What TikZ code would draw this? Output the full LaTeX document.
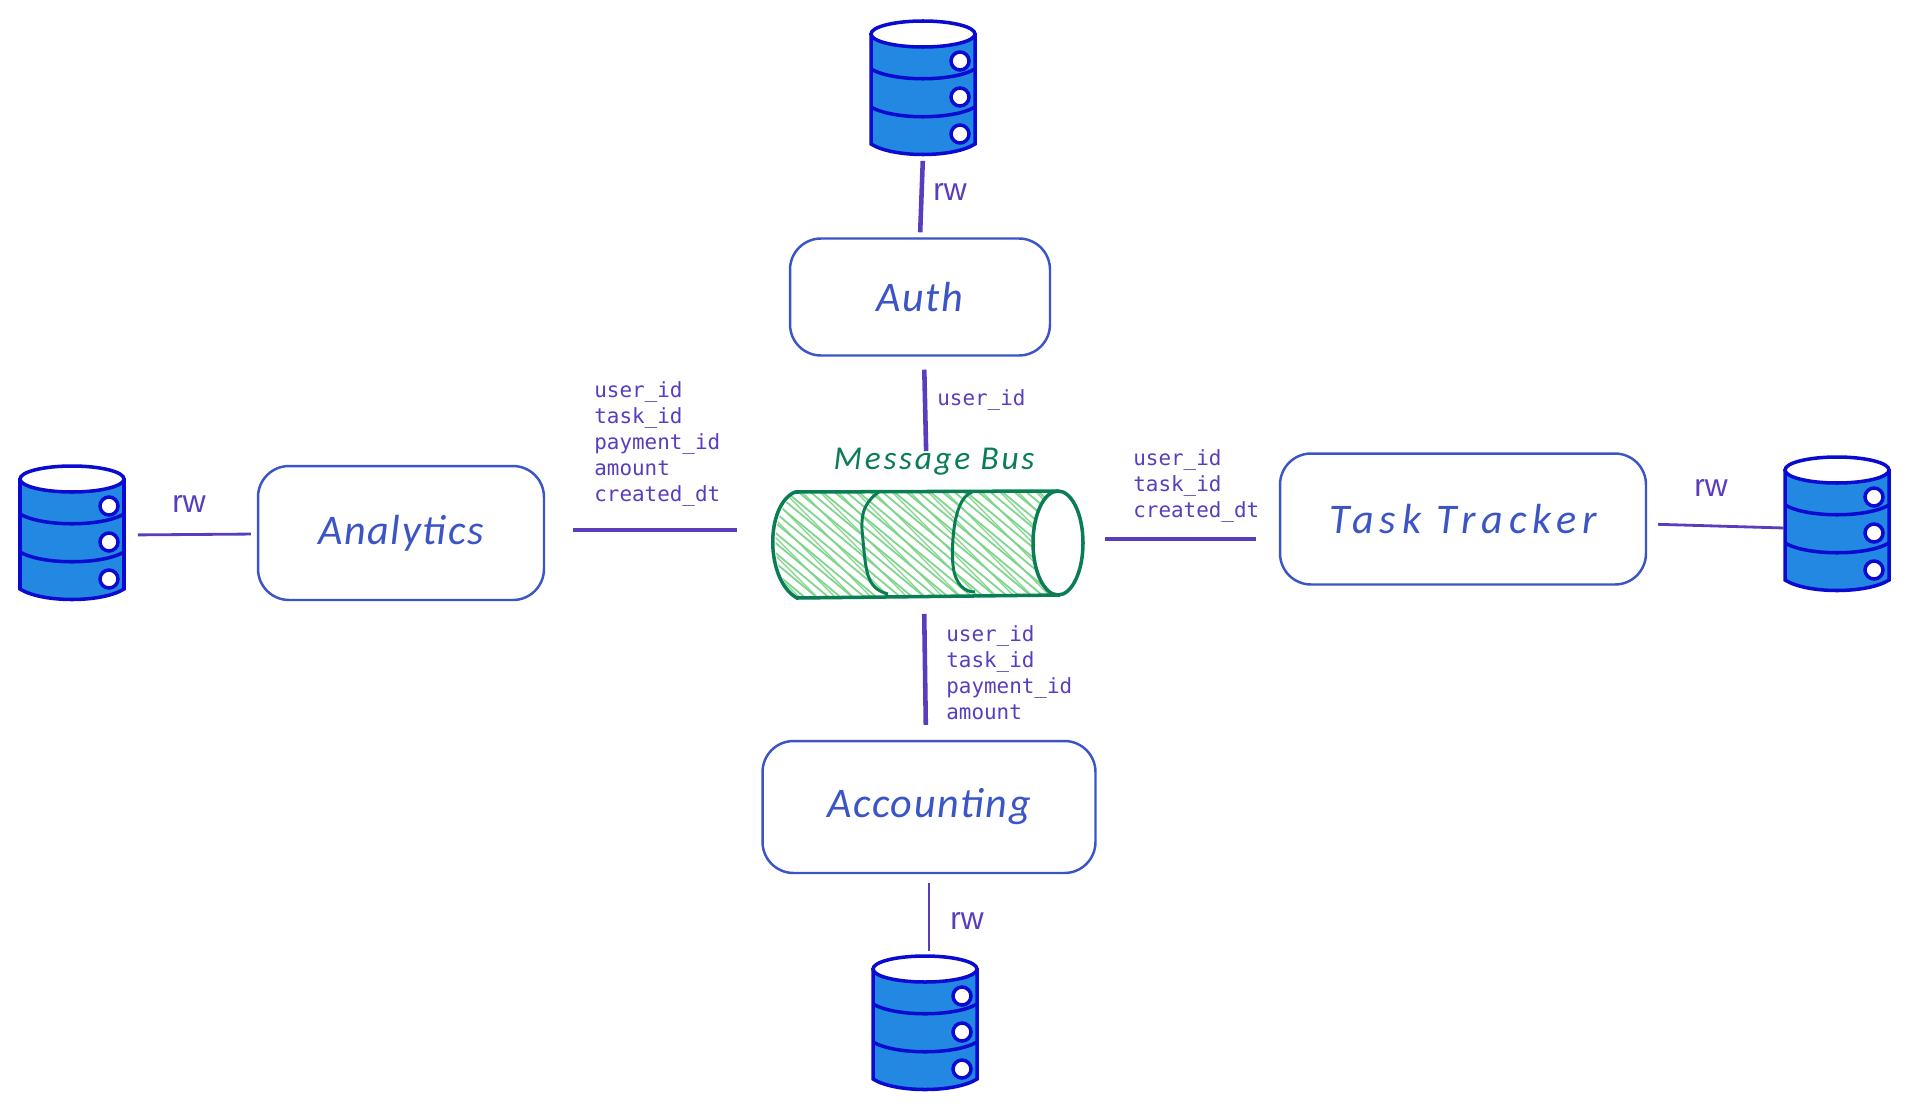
\documentclass[tikz,border=0pt]{standalone}
\usepackage{fontspec}
\usetikzlibrary{calc}
\setmainfont{Liberation Sans}
\newfontfamily\handfont[LetterSpace=4]{Carlito}
\newfontfamily\fldfont{DejaVu Sans Mono}
\definecolor{ink}{HTML}{3B55C6}
\definecolor{lnk}{HTML}{5A3DBD}
\definecolor{dbink}{HTML}{0A0AD0}
\definecolor{dbfill}{HTML}{2288E2}
\definecolor{busink}{HTML}{0B7D55}
\definecolor{hatch}{HTML}{7FD58C}
\tikzset{
  dbstack/.pic={
    \fill[dbfill] (-52,-55) -- (-52,56) .. controls (-30,70) and (30,70) .. (52,56) -- (52,-55) -- cycle;
    \draw[dbline] (-52,-55) -- (-52,56) .. controls (-30,70) and (30,70) .. (52,56) -- (52,-55);
    \draw[dbline, fill=white] (0,-54) ellipse [x radius=52, y radius=13];
    \draw[dbline] (-52,-19) .. controls (-30,-6) and (30,-6) .. (52,-19);
    \draw[dbline] (-52,19) .. controls (-30,32) and (30,32) .. (52,19);
    \foreach \y in {-27,9,46}
      \draw[dbline, fill=white] (37,\y) circle [radius=9];
  }
}
\begin{document}
\begin{tikzpicture}[x=0.02cm, y=-0.02cm,
  svc/.style={draw=ink, line width=1.4pt, rounded corners=0.62cm, align=center, text=ink,
    font=\handfont\itshape\fontsize{24}{28}\selectfont},
  db/.style={minimum width=2.1cm, minimum height=2.66cm, inner sep=0pt},
  dbline/.style={draw=dbink, line width=2pt},
  arr/.style={draw=lnk, line width=2.6pt},
  arrw/.style={draw=lnk, line width=1.6pt},
  rw/.style={text=lnk, font=\fontsize{18}{20}\selectfont, inner sep=0pt},
  fld/.style={text=lnk, align=left, anchor=west, inner sep=0pt,
    font=\fldfont\fontsize{11.9}{14.8}\selectfont}
]
  \useasboundingbox (0,0) rectangle (1912,1112);

  \node[svc, minimum width=5.2cm, minimum height=2.34cm] (auth) at (920,297) {Auth};
  \node[svc, minimum width=5.72cm, minimum height=2.68cm] (analytics) at (401,533) {Analytics};
  \node[svc, minimum width=7.32cm, minimum height=2.62cm] (task) at (1463,519) {\addfontfeature{LetterSpace=14}Task Tracker};
  \node[svc, minimum width=6.66cm, minimum height=2.64cm] (accounting) at (929,807) {Accounting};

  \node[db] (dbauth) at (923,88) {};
  \node[db] (dbanalytics) at (72,533) {};
  \node[db] (dbtask) at (1837,524) {};
  \node[db] (dbaccounting) at (925,1023) {};
  \foreach \d in {dbauth, dbanalytics, dbtask, dbaccounting}
    \pic at (\d) {dbstack};

  \node[minimum width=6.22cm, minimum height=2.14cm, inner sep=0pt] (bus) at (927,544) {};
  \begin{scope}
    \clip (795,492) -- (1058,491) -- (1060,595) -- (797,598)
      .. controls (774,580) and (764,520) .. cycle;
    \foreach \h in {640,652,...,1060}
      \draw[hatch, line width=1pt] (\h,480) -- ++(150,125);
    \foreach \h in {646,664,...,1060}
      \draw[hatch, line width=0.7pt] (\h,480) -- ++(125,125);
  \end{scope}
  \draw[busink, line width=2pt] (1058,491) -- (795,492)
    .. controls (765,505) and (765,580) .. (797,598) -- (1060,595);
  \draw[busink, line width=1.7pt] (880,491) .. controls (860,505) and (862,520) .. (862,530)
    .. controls (866,570) and (865,588) .. (888,594);
  \draw[busink, line width=1.7pt] (972,492) .. controls (950,500) and (952,560) .. (953,565)
    .. controls (955,585) and (965,592) .. (975,592);
  \draw[busink, line width=2pt, fill=white] (1058,543) ellipse [x radius=25, y radius=52];
  \node[text=busink, font=\handfont\itshape\fontsize{19}{22}\selectfont\addfontfeature{LetterSpace=8}, inner sep=0pt] (buslabel) at (934,462) {Message Bus};

  \draw[arr, shorten <=.12cm, shorten >=.1cm] (dbauth.south) -- (auth.north);
  \draw[arr, shorten <=.26cm, shorten >=.78cm] ($(auth.south)+(4,0)$) -- (bus.north);
  \draw[arr, shorten <=.32cm, shorten >=.3cm] ($(bus.south)+(-3,0)$) -- ($(accounting.north)+(-3,0)$);
  \draw[arrw, shorten <=.18cm, shorten >=.1cm] (accounting.south) -- ($(dbaccounting.north)+(4,0)$);
  \draw[arr, shorten <=.56cm, shorten >=.68cm] ($(analytics.east)+(0,-3)$) -- ($(bus.west)+(0,-14)$);
  \draw[arr, shorten <=.44cm, shorten >=.46cm] ($(bus.east)+(0,-5)$) -- ($(task.west)+(0,20)$);
  \draw[arrw, shorten <=.26cm, shorten >=.12cm] ($(dbanalytics.east)+(0,2)$) -- ($(analytics.west)+(0,1)$);
  \draw[arrw, shorten <=.22cm] ($(task.east)+(0,5)$) -- ($(dbtask.west)+(0,4)$);

  \node[rw] (rwauth) at (950,192) {rw};
  \node[rw] (rwanalytics) at (189,504) {rw};
  \node[rw] (rwtask) at (1711,488) {rw};
  \node[rw] (rwaccounting) at (967,921) {rw};

  \node[fld] (fldauth) at (937,400) {user\_id};
  \node[fld] (fldanalytics) at (594,444) {user\_id\\task\_id\\payment\_id\\amount\\created\_dt};
  \node[fld] (fldtask) at (1133,486) {user\_id\\task\_id\\created\_dt};
  \node[fld] (fldaccounting) at (946,673) {user\_id\\task\_id\\payment\_id\\amount};
\end{tikzpicture}
\end{document}
